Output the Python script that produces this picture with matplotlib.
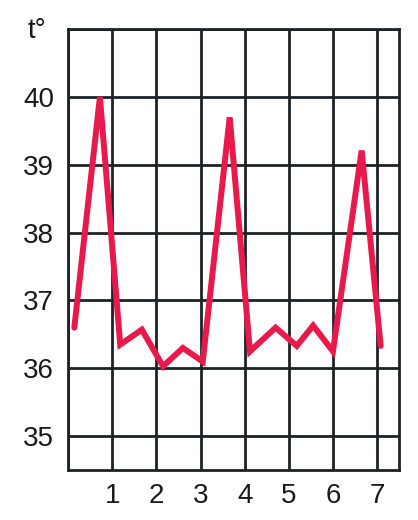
import matplotlib.pyplot as plt

# temperature readings (morning / evening), x in days
days = [0.14, 0.72, 1.18, 1.67, 2.15, 2.6, 3.05, 3.66, 4.12, 4.7, 5.18, 5.55, 6.0, 6.65, 7.08]
temps = [36.6, 40.0, 36.35, 36.57, 36.03, 36.3, 36.1, 39.7, 36.25, 36.6, 36.33, 36.63, 36.25, 39.21, 36.33]

x_ticks = [1, 2, 3, 4, 5, 6, 7]
y_ticks = [35, 36, 37, 38, 39, 40]

plt.rcParams['font.family'] = ['Liberation Sans', 'DejaVu Sans']

fig = plt.figure(figsize=(4.18, 5.2), dpi=100)
ax = fig.add_axes([0.163, 0.096, 0.792, 0.848])

# grid lines (drawn as lines so they sit under the curve)
for x in [0, 1, 2, 3, 4, 5, 6, 7]:
    ax.axvline(x, color="#1c2226", lw=2.0, zorder=1)
for y in [35, 36, 37, 38, 39, 40, 41]:
    ax.axhline(y, color="#1c2226", lw=2.0, zorder=1)

ax.plot(days, temps, color="#e8194b", lw=4.3, solid_joinstyle="miter",
        solid_capstyle="round", zorder=3)

ax.set_xlim(0, 7.5)
ax.set_ylim(34.5, 41)
ax.set_xticks(x_ticks)
ax.set_yticks(y_ticks)
ax.tick_params(length=0, labelsize=20, colors="#1a1a1a")
ax.tick_params(axis="y", pad=10)
ax.tick_params(axis="x", pad=9)
for s in ax.spines.values():
    s.set_color("#1c2226")
    s.set_linewidth(2.0)

fig.text(0.065, 0.94, "t°", fontsize=20, color="#1a1a1a", ha="left", va="center")

fig.savefig("out.png", dpi=100)
